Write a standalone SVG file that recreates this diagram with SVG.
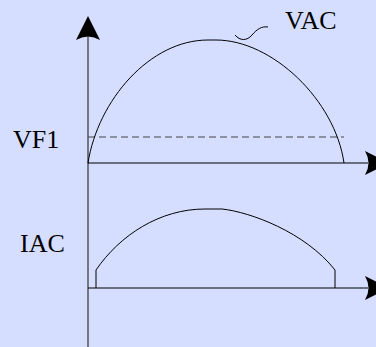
<svg xmlns="http://www.w3.org/2000/svg" width="376" height="347" viewBox="0 0 376 347">
<style>
.lbl{font-family:"Liberation Serif","Times New Roman",serif;font-size:26px;fill:#000}
.ax{stroke:#000;stroke-width:1.2;fill:none}
.vax{stroke:#333;stroke-width:1.2;fill:none}
.crv{stroke:#000;stroke-width:1;fill:none}
.dash{stroke:#444;stroke-width:1.2;stroke-dasharray:7,4;fill:none}
.ah{fill:#000;stroke:none}
</style>
<rect width="376" height="347" fill="#d5deff"/>
<g id="connectors">
<path class="vax" d="M88,36 V347"/>
<path class="ah" d="M88,16 L100,40 Q88,33 76,40 Z"/>
<path class="ax" d="M88,163 H368"/>
<path class="ah" d="M389,163 L365,151 Q372,163 365,175 Z"/>
<path class="ax" d="M88,288 H368"/>
<path class="ah" d="M389,288 L365,276 Q372,288 365,300 Z"/>
<path class="dash" d="M88,137 H344"/>
</g>
<g id="vac-curve">
<path class="crv" d="M88,163 C98,100 150,40 208,40 L216,40 C272,40 335,100 344,163"/>
<path class="crv" d="M235,35 C240,41 247,41 252,35 S262,26 268,27"/>
</g>
<g id="iac-curve">
<path class="crv" d="M96,288 V270 C120,235 160,209 205,209 L222,209 C250,212 305,232 335,270 V288"/>
</g>
<g id="label-vac"><text class="lbl" x="285" y="29">VAC</text></g>
<g id="label-vf1"><text class="lbl" x="13" y="148">VF1</text></g>
<g id="label-iac"><text class="lbl" x="20" y="252">IAC</text></g>
</svg>
